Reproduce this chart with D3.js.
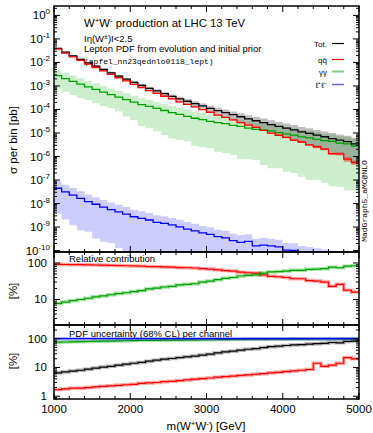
<!DOCTYPE html>
<html><head><meta charset="utf-8">
<script src="https://cdn.jsdelivr.net/npm/d3@7"></script>
<style>
body{margin:0;background:#fff}
svg{display:block}
text{font-family:"Liberation Sans",Arial,Helvetica,sans-serif;fill:#000}
.mono{font-family:"Liberation Mono","DejaVu Sans Mono",monospace}
</style>
</head><body>
<svg id="c" width="373" height="433"></svg>
<script>
// ---------------- data ----------------
const binStart = [1000,1100,1200,1300,1400,1500,1600,1700,1800,1900,2000,2100,2200,2300,2400,2500,2600,2700,2800,2900,
                  3000,3100,3200,3300,3400,3500,3600,3700,3800,3900,4000,4100,4200,4300,4400,4500,4600,4700,4800,4900];
const binEndLast = 5000;

const totXsec = [3.98e-2,2.75e-2,1.91e-2,1.35e-2,9.55e-3,6.92e-3,5.01e-3,3.63e-3,2.63e-3,1.95e-3,
                 1.41e-3,1.05e-3,7.94e-4,6.17e-4,4.68e-4,3.63e-4,2.82e-4,2.24e-4,1.78e-4,1.41e-4,
                 1.12e-4,8.91e-5,7.41e-5,6.03e-5,4.90e-5,3.98e-5,3.31e-5,2.75e-5,2.29e-5,1.91e-5,
                 1.62e-5,1.35e-5,1.12e-5,9.55e-6,8.13e-6,6.92e-6,5.75e-6,5.01e-6,4.27e-6,3.47e-6];
const qqXsec  = [3.66e-2,2.50e-2,1.72e-2,1.22e-2,8.50e-3,6.09e-3,4.36e-3,3.12e-3,2.24e-3,1.64e-3,
                 1.17e-3,8.61e-4,6.35e-4,4.87e-4,3.65e-4,2.80e-4,2.12e-4,1.66e-4,1.30e-4,9.87e-5,
                 7.62e-5,5.79e-5,4.59e-5,3.62e-5,2.74e-5,2.15e-5,1.75e-5,1.29e-5,9.85e-6,8.02e-6,
                 6.48e-6,5.00e-6,4.14e-6,3.15e-6,2.60e-6,2.08e-6,1.32e-6,1.30e-6,7.69e-7,5.55e-7];
const ggXsec  = [2.73e-3,2.06e-3,1.57e-3,1.19e-3,9.06e-4,7.19e-4,5.51e-4,4.31e-4,3.35e-4,2.62e-4,
                 2.05e-4,1.62e-4,1.36e-4,1.11e-4,9.06e-5,7.35e-5,6.20e-5,5.12e-5,4.23e-5,3.72e-5,
                 3.15e-5,2.75e-5,2.48e-5,2.12e-5,1.90e-5,1.61e-5,1.42e-5,1.35e-5,1.22e-5,1.04e-5,
                 9.2e-6,8.1e-6,6.8e-6,6.2e-6,5.4e-6,4.75e-6,4.4e-6,3.7e-6,3.45e-6,2.8e-6];
const ggLow   = [7.59e-4,5.62e-4,4.07e-4,3.02e-4,2.51e-4,1.82e-4,1.41e-4,1.12e-4,8.13e-5,5.01e-5,
                 3.55e-5,2.00e-5,1.58e-5,1.15e-5,8.13e-6,5.89e-6,5.01e-6,4.47e-6,2.82e-6,2.45e-6,
                 2.24e-6,1.58e-6,1.41e-6,1.15e-6,7.59e-7,7.59e-7,7.08e-7,4.37e-7,3.16e-7,3.16e-7,
                 2.24e-7,2.00e-7,1.38e-7,1.00e-7,1.00e-7,7.76e-8,5.50e-8,5.01e-8,3.72e-8,3.55e-8];
const llXsec  = [4.47e-8,3.16e-8,2.29e-8,1.66e-8,1.20e-8,9.33e-9,7.08e-9,5.50e-9,4.47e-9,3.55e-9,
                 2.75e-9,2.34e-9,2.00e-9,1.58e-9,1.45e-9,1.23e-9,1.02e-9,8.13e-10,6.92e-10,5.62e-10,
                 4.90e-10,3.89e-10,3.47e-10,2.63e-10,2.24e-10,2.45e-10,1.58e-10,1.70e-10,1.58e-10,1.45e-10,
                 1.05e-10,1.02e-10,7.9e-11,7.1e-11,6.3e-11,5.6e-11,5.0e-11,4.5e-11,4.0e-11,3.5e-11];
const llLow   = [3.8e-9,2.1e-9,1.2e-9,7.4e-10,6.3e-10,3.3e-10,2.4e-10,2.1e-10,1.3e-10,1e-11,
                 1e-11,1e-11,1e-11,1e-11,1e-11,1e-11,1e-11,1e-11,1e-11,1e-11,
                 1e-11,1e-11,1e-11,1e-11,1e-11,1e-11,1e-11,1e-11,1e-11,1e-11,
                 1e-11,1e-11,1e-11,1e-11,1e-11,1e-11,1e-11,1e-11,1e-11,1e-11];

// relative contribution [%]
const relQQ = [92,91,90,90,89,88,87,86,85,84,83,82,80,79,78,77,75,74,73,70,
               68,65,62,60,56,54,53,47,43,42,40,37,37,33,32,30,23,26,18,16];
const relGG = [7.8,8.5,9.3,10,10.8,11.8,12.5,13.5,14.5,15.3,16.5,17.5,19.5,20.5,22,23,25,26,27,30,
               32,35,38,40,44,46,47,53,57,58,60,63,63,67,68,70,77,74,82,84];

// PDF uncertainty (68% CL) [%]
const uncTot = [6.5,7,7.5,8,8.7,9.5,10.3,11,12,13,14,15,16.5,18,19.5,20.5,22,23.5,25,27,
                29,32,35,37,40,43,45,49,53,55,58,61,62,65,67,69,74,72,80,83];
const uncQQ  = [1.7,1.8,1.9,1.9,2.0,2.1,2.2,2.3,2.4,2.5,2.6,2.8,2.9,3.0,3.2,3.3,3.5,3.7,3.9,4.1,
                4.3,4.6,4.8,5.0,5.3,5.5,5.8,6.1,6.5,6.8,7.2,7.6,8.0,8.5,14,11,12,14,22,20];
const uncGG  = [76,77,78,79,80,81,82,83,84,85,86,87,88,88,89,90,90,91,91,92,
                92,93,93,94,94,95,95,95,96,96,96,97,97,97,98,98,98,98,99,99];
const uncLL  = [100,100,100,100,100,100,100,100,100,100,100,100,100,100,100,100,100,100,100,100,
                100,100,100,100,100,100,100,100,100,100,100,100,100,100,100,100,100,100,100,100];

const mainTicks = [1e0,1e-1,1e-2,1e-3,1e-4,1e-5,1e-6,1e-7,1e-8,1e-9,1e-10];
const mainTickExp = ["0","-1","-2","-3","-4","-5","-6","-7","-8","-9","-10"];
const relTicks = [10,100];
const uncTicks = [1,10,100];
const xTicks = [1000,2000,3000,4000,5000];

// ---------------- layout ----------------
const svg = d3.select("#c");
const L = 54, R = 359;
const P = {main:[6,252], rel:[252,325], unc:[325,399]};
const x = d3.scaleLinear([1000,5000],[L,R]);
const yMain = d3.scaleLog([Math.pow(10,-10.06),Math.pow(10,0.40)],[P.main[1],P.main[0]]);
const yRel = d3.scaleLog([2,200],[P.rel[1],P.rel[0]]);
const yUnc = d3.scaleLog([0.8,300],[P.unc[1],P.unc[0]]);

const defs = svg.append("defs");
Object.entries(P).forEach(([k,[t,b]])=>{
  defs.append("clipPath").attr("id","clip-"+k).append("rect").attr("x",L).attr("y",t).attr("width",R-L).attr("height",b-t);
});

function pts(vals){ const a = binStart.map((b,i)=>[b,vals[i]]); a.push([binEndLast,vals[vals.length-1]]); return a; }
function stepLine(y){ return d3.line().x(d=>x(d[0])).y(d=>y(d[1])).curve(d3.curveStepAfter); }
function bandPts(lo,hi){ const a = binStart.map((b,i)=>[b,lo[i],hi[i]]); const n=lo.length-1; a.push([binEndLast,lo[n],hi[n]]); return a; }
function stepArea(y){ return d3.area().x(d=>x(d[0])).y0(d=>y(Math.max(d[1],1e-30))).y1(d=>y(d[2])).curve(d3.curveStepAfter); }

// ---------------- main panel ----------------
const gm = svg.append("g").attr("clip-path","url(#clip-main)");
const totLo = totXsec.map((v,i)=>v*(1-uncTot[i]/100)), totHi = totXsec.map((v,i)=>v*(1+uncTot[i]/100));
const qqLo = qqXsec.map((v,i)=>v*(1-uncQQ[i]/100)), qqHi = qqXsec.map((v,i)=>v*(1+uncQQ[i]/100));
const ggHi = ggXsec.map((v,i)=>v*(1+uncGG[i]/100));
const llHi = llXsec.map((v,i)=>v*(1+uncLL[i]/100));

gm.append("path").attr("d",stepArea(yMain)(bandPts(ggLow,ggHi))).attr("fill","rgb(0,170,0)").attr("fill-opacity",0.2);
gm.append("path").attr("d",stepArea(yMain)(bandPts(llLow,llHi))).attr("fill","rgb(0,0,255)").attr("fill-opacity",0.2);
gm.append("path").attr("d",stepArea(yMain)(bandPts(totLo,totHi))).attr("fill","#000").attr("fill-opacity",0.25);
gm.append("path").attr("d",stepArea(yMain)(bandPts(qqLo,qqHi))).attr("fill","rgb(255,0,0)").attr("fill-opacity",0.45);

gm.append("path").attr("d",stepLine(yMain)(pts(ggXsec))).attr("fill","none").attr("stroke","#00a000").attr("stroke-width",1.3);
gm.append("path").attr("d",stepLine(yMain)(pts(llXsec))).attr("fill","none").attr("stroke","#0000ff").attr("stroke-width",1.3);
gm.append("path").attr("d",stepLine(yMain)(pts(totXsec))).attr("fill","none").attr("stroke","#000").attr("stroke-width",1.3);
gm.append("path").attr("d",stepLine(yMain)(pts(qqXsec))).attr("fill","none").attr("stroke","#ff0000").attr("stroke-width",1.3);

// ---------------- relative panel ----------------
const gr = svg.append("g").attr("clip-path","url(#clip-rel)");
[[relQQ,"#ff0000","rgba(255,0,0,0.35)"],[relGG,"#00a000","rgba(0,170,0,0.35)"]].forEach(([v,c,cb])=>{
  gr.append("path").attr("d",stepLine(yRel)(pts(v))).attr("fill","none").attr("stroke",cb).attr("stroke-width",3.5);
  gr.append("path").attr("d",stepLine(yRel)(pts(v))).attr("fill","none").attr("stroke",c).attr("stroke-width",1.2);
});

// ---------------- uncertainty panel ----------------
const gu = svg.append("g").attr("clip-path","url(#clip-unc)");
[[uncGG,"#00a000","rgba(0,170,0,0.35)"],[uncLL,"#0000ff","rgba(0,0,255,0.3)"],[uncTot,"#000","rgba(0,0,0,0.3)"],[uncQQ,"#ff0000","rgba(255,0,0,0.35)"]].forEach(([v,c,cb])=>{
  gu.append("path").attr("d",stepLine(yUnc)(pts(v))).attr("fill","none").attr("stroke",cb).attr("stroke-width",3.5);
  gu.append("path").attr("d",stepLine(yUnc)(pts(v))).attr("fill","none").attr("stroke",c).attr("stroke-width",1.2);
});

// ---------------- ticks ----------------
function logMinor(lo,hi){ const out=[]; for(let e=Math.floor(Math.log10(lo))-1;e<=Math.ceil(Math.log10(hi));e++){ for(let m=2;m<=9;m++){ const v=m*Math.pow(10,e); if(v>=lo&&v<=hi) out.push(v);} } return out; }
function yTicks(y,majors){
  const [lo,hi]=y.domain(); const minors=logMinor(lo,hi);
  const g = svg.append("g").attr("stroke","#000").attr("stroke-width",1);
  majors.forEach(v=>{ const yy=y(v); g.append("line").attr("x1",L).attr("x2",L+6).attr("y1",yy).attr("y2",yy); g.append("line").attr("x1",R).attr("x2",R-6).attr("y1",yy).attr("y2",yy); });
  minors.forEach(v=>{ const yy=y(v); g.append("line").attr("x1",L).attr("x2",L+3).attr("y1",yy).attr("y2",yy); g.append("line").attr("x1",R).attr("x2",R-3).attr("y1",yy).attr("y2",yy); });
}
yTicks(yMain,mainTicks); yTicks(yRel,relTicks); yTicks(yUnc,uncTicks);
const xMinor = d3.range(1000,5001,200).filter(v=>v%1000!==0);
function xTickMarks(t,b){
  const g = svg.append("g").attr("stroke","#000").attr("stroke-width",1);
  xTicks.forEach(v=>{ g.append("line").attr("x1",x(v)).attr("x2",x(v)).attr("y1",b).attr("y2",b-6); g.append("line").attr("x1",x(v)).attr("x2",x(v)).attr("y1",t).attr("y2",t+6); });
  xMinor.forEach(v=>{ g.append("line").attr("x1",x(v)).attr("x2",x(v)).attr("y1",b).attr("y2",b-3); g.append("line").attr("x1",x(v)).attr("x2",x(v)).attr("y1",t).attr("y2",t+3); });
}
Object.values(P).forEach(([t,b])=>xTickMarks(t,b));

// frames
Object.values(P).forEach(([t,b])=>{
  svg.append("rect").attr("x",L).attr("y",t).attr("width",R-L).attr("height",b-t).attr("fill","none").attr("stroke","#000").attr("stroke-width",1.5);
});

// tick labels
mainTicks.forEach((v,i)=>{
  const t = svg.append("text").attr("x",50).attr("y",yMain(v)+4).attr("text-anchor","end").attr("font-size",11.5);
  t.append("tspan").text("10");
  t.append("tspan").attr("dy",-5).attr("font-size",8).text(mainTickExp[i]);
});
relTicks.forEach(v=>svg.append("text").attr("x",47).attr("y",yRel(v)+4).attr("text-anchor","end").attr("font-size",11.5).text(v));
uncTicks.forEach(v=>svg.append("text").attr("x",47).attr("y",yUnc(v)+4).attr("text-anchor","end").attr("font-size",11.5).text(v));
xTicks.forEach(v=>svg.append("text").attr("x",x(v)).attr("y",413).attr("text-anchor","middle").attr("font-size",11.5).text(v));

// axis titles
svg.append("text").attr("transform","translate(17,140) rotate(-90)").attr("text-anchor","middle").attr("font-size",11.5).text("σ per bin [pb]");
svg.append("text").attr("transform","translate(17,291) rotate(-90)").attr("text-anchor","middle").attr("font-size",11.5).text("[%]");
svg.append("text").attr("transform","translate(17,361) rotate(-90)").attr("text-anchor","middle").attr("font-size",11.5).text("[%]");
const xt = svg.append("text").attr("x",206).attr("y",430).attr("text-anchor","middle").attr("font-size",11.5);
xt.append("tspan").text("m(W");
xt.append("tspan").attr("dy",-4).attr("font-size",8).text("+");
xt.append("tspan").attr("dy",4).text("W");
xt.append("tspan").attr("dy",-4).attr("font-size",8).text("-");
xt.append("tspan").attr("dy",4).text(") [GeV]");

// titles inside main panel
const tt = svg.append("text").attr("x",84).attr("y",27).attr("font-size",11.3);
tt.append("tspan").text("W");
tt.append("tspan").attr("dy",-4).attr("font-size",8).text("+");
tt.append("tspan").attr("dy",4).text("W");
tt.append("tspan").attr("dy",-4).attr("font-size",8).text("-");
tt.append("tspan").attr("dy",4).text(" production at LHC 13 TeV");
const et = svg.append("text").attr("x",84).attr("y",42).attr("font-size",9.5);
et.append("tspan").text("Iη(W");
et.append("tspan").attr("dy",-3.5).attr("font-size",7).text("±");
et.append("tspan").attr("dy",3.5).text(")I<2.5");
svg.append("text").attr("x",84).attr("y",52).attr("font-size",9.5).text("Lepton PDF from evolution and initial prior");
svg.append("text").attr("class","mono").attr("x",84).attr("y",64).attr("font-size",8).text("(apfel_nn23qednlo0118_lept)");

// legend
const leg = [["Tot.","#000",1.2,43.5],["qq̄","#ff0000",1.2,59.5],["γγ","#7fcf7f",2,71.5],["ℓ⁺ℓ⁻","#6464ff",1.5,84.5]];
leg.forEach(([lab,c,w,yy])=>{
  svg.append("text").attr("x",327).attr("y",yy+3).attr("text-anchor","end").attr("font-size",8).text(lab);
  svg.append("line").attr("x1",332).attr("x2",344).attr("y1",yy).attr("y2",yy).attr("stroke",c).attr("stroke-width",w);
});

// panel labels
svg.append("text").attr("x",69).attr("y",261.5).attr("font-size",9.5).text("Relative contribution");
svg.append("text").attr("x",69).attr("y",336.5).attr("font-size",9.5).text("PDF uncertainty (68% CL) per channel");

// generator label
svg.append("text").attr("class","mono").attr("transform","translate(367,201) rotate(-90)").attr("text-anchor","middle").attr("font-size",8).text("MadGraph5_aMC@NLO");
</script>
</body></html>
